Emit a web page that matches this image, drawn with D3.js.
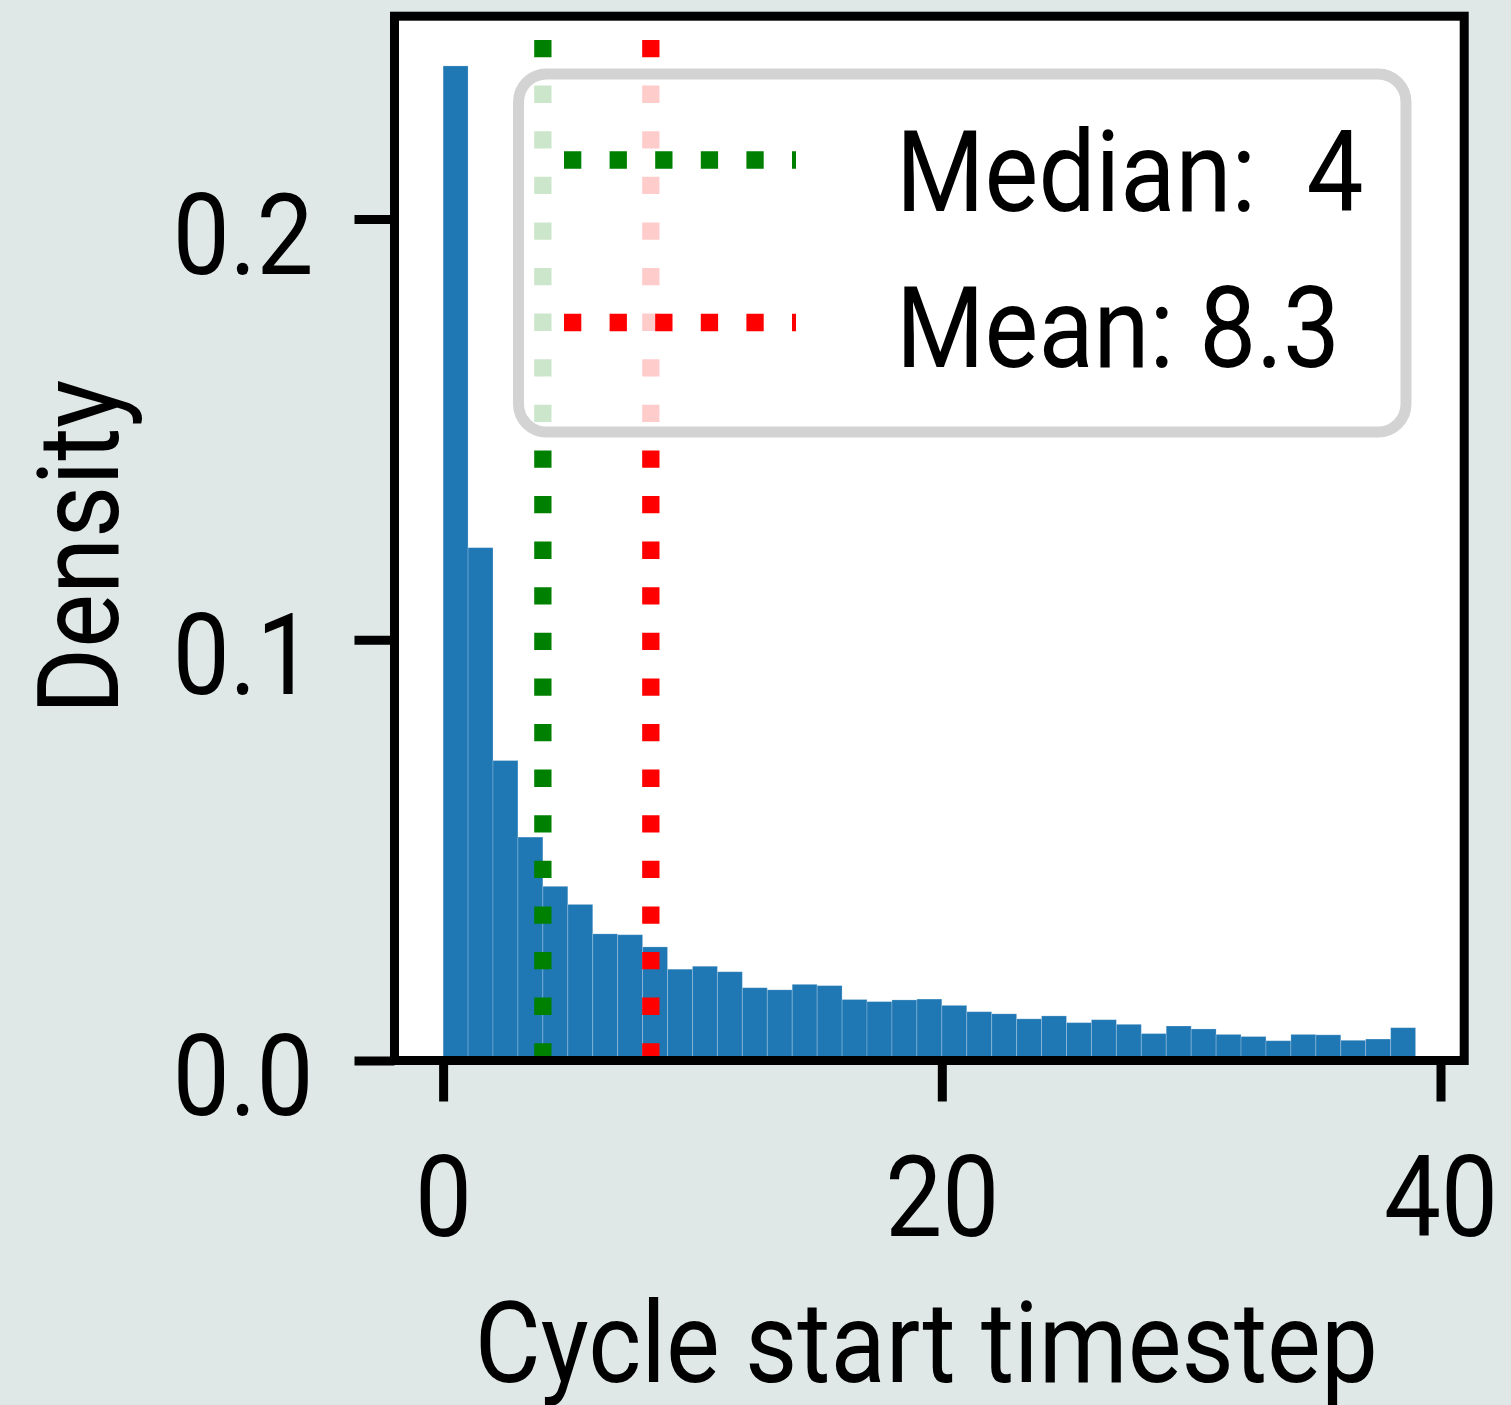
<!DOCTYPE html>
<html lang="en">
<head>
<meta charset="UTF-8">
<title>Cycle start timestep</title>
<script src="https://d3js.org/d3.v7.min.js"></script>
<style>
  html, body { margin: 0; padding: 0; background: #dfe8e6; }
  svg { display: block; }
  text { font-family: Roboto, "Noto Sans", sans-serif; fill: #000; white-space: pre; }
</style>
</head>
<body>
<svg width="1511" height="1405"></svg>
<script>
// histogram density per unit-width bin, bins start at 0,1,...,38
const binStarts = d3.range(0, 39);
const density = [
  0.2364, 0.1219, 0.0713, 0.0531, 0.0414, 0.0371, 0.0301, 0.0299, 0.0270, 0.0217,
  0.0224, 0.0211, 0.0173, 0.0168, 0.0181, 0.0178, 0.0145, 0.0140, 0.0144, 0.0146,
  0.0131, 0.0116, 0.0111, 0.0099, 0.0106, 0.0090, 0.0097, 0.0086, 0.0064, 0.0082,
  0.0075, 0.0062, 0.0057, 0.0047, 0.0062, 0.0061, 0.0048, 0.0051, 0.0078
];
const binWidth = 1;
const xTicks = [0, 20, 40];
const yTicks = [0.0, 0.1, 0.2];
const median = 4;
const mean = 8.33;
const legendLabels = ["Median:  4", "Mean: 8.3"];
const legendColors = ["green", "red"];

const svg = d3.select("svg");
const fontSize = 114;
const squeeze = 0.89;

// plot box in pixels
const plotLeft = 394.5, plotRight = 1464.2, plotTop = 16.2, plotBottom = 1060.5;

const x = d3.scaleLinear().domain([-1.95, 40.95]).range([plotLeft, plotRight]);
const y = d3.scaleLinear().domain([0, d3.max(density) * 1.05]).range([plotBottom, plotTop]);

// white plot area
svg.append("rect")
  .attr("x", plotLeft).attr("y", plotTop)
  .attr("width", plotRight - plotLeft).attr("height", plotBottom - plotTop)
  .attr("fill", "#fff");

// bars
svg.append("g").selectAll("rect")
  .data(density)
  .join("rect")
  .attr("x", (d, i) => x(binStarts[i]))
  .attr("y", d => y(d))
  .attr("width", x(binWidth) - x(0))
  .attr("height", d => y(0) - y(d))
  .attr("fill", "#1f77b4")
  .attr("stroke", "rgba(255,255,255,0.22)")
  .attr("stroke-width", 1);

// median / mean vertical dotted lines
const dash = "17.3 28.3";
svg.append("g").selectAll("line")
  .data([median, mean])
  .join("line")
  .attr("x1", d => x(d)).attr("x2", d => x(d))
  .attr("y1", y(0)).attr("y2", y.range()[1])
  .attr("stroke", (d, i) => legendColors[i])
  .attr("stroke-width", 17.3)
  .attr("stroke-dasharray", dash);

// legend
const legend = svg.append("g");
legend.append("rect")
  .attr("x", 518.5).attr("y", 74)
  .attr("width", 887.5).attr("height", 358)
  .attr("rx", 28).attr("ry", 28)
  .attr("fill", "#fff").attr("fill-opacity", 0.8)
  .attr("stroke", "#d3d3d3").attr("stroke-width", 11);

const rowY = [160, 322.5];
legend.selectAll("line")
  .data(legendLabels)
  .join("line")
  .attr("x1", 564).attr("x2", 796)
  .attr("y1", (d, i) => rowY[i]).attr("y2", (d, i) => rowY[i])
  .attr("stroke", (d, i) => legendColors[i])
  .attr("stroke-width", 17.3)
  .attr("stroke-dasharray", dash);

legend.selectAll("text")
  .data(legendLabels)
  .join("text")
  .attr("x", 896)
  .attr("y", (d, i) => [211, 367][i])
  .attr("font-size", fontSize)
  .text(d => d);

// frame
svg.append("rect")
  .attr("x", plotLeft).attr("y", plotTop)
  .attr("width", plotRight - plotLeft).attr("height", plotBottom - plotTop)
  .attr("fill", "none")
  .attr("stroke", "#000").attr("stroke-width", 9);

// axes
const yAxis = svg.append("g")
  .attr("transform", `translate(${plotLeft},0)`)
  .call(d3.axisLeft(y).tickValues(yTicks).tickFormat(d3.format(".1f")).tickSize(40).tickPadding(41));
yAxis.select(".domain").remove();
yAxis.selectAll(".tick line").attr("stroke", "#000").attr("stroke-width", 9);
yAxis.selectAll(".tick text")
  .attr("font-size", fontSize)
  .attr("dy", 54)
  .attr("fill", "#000");
yAxis.attr("font-family", null);

const xAxis = svg.append("g")
  .attr("transform", `translate(0,${plotBottom})`)
  .call(d3.axisBottom(x).tickValues(xTicks).tickFormat(d3.format("d")).tickSize(41));
xAxis.select(".domain").remove();
xAxis.selectAll(".tick line").attr("stroke", "#000").attr("stroke-width", 9);
xAxis.selectAll(".tick text")
  .attr("font-size", fontSize)
  .attr("y", 175.5)
  .attr("dy", 0)
  .attr("fill", "#000");
xAxis.attr("font-family", null);

// axis titles
svg.append("text")
  .attr("transform", "translate(118,547) rotate(-90)")
  .attr("text-anchor", "middle")
  .attr("font-size", fontSize)
  .text("Density");

svg.append("text")
  .attr("x", (plotLeft + plotRight) / 2 - 3)
  .attr("y", 1382)
  .attr("text-anchor", "middle")
  .attr("font-size", fontSize)
  .text("Cycle start timestep");

// narrow the glyphs a little to match the condensed look of the original face
svg.selectAll("text").each(function() {
  const len = this.getComputedTextLength();
  d3.select(this).attr("textLength", len * squeeze).attr("lengthAdjust", "spacingAndGlyphs");
});
</script>
</body>
</html>
